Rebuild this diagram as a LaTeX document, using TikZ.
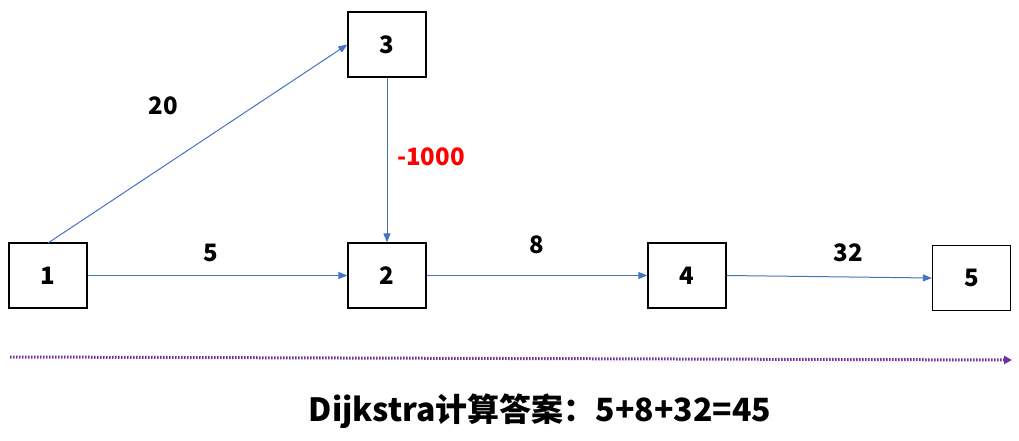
\documentclass[tikz,border=0pt]{standalone}
\usepackage{fontspec}
\setmainfont{Noto Sans CJK SC}
\newfontfamily\cjk{Noto Sans CJK SC}
\usetikzlibrary{arrows.meta}
\definecolor{edgeblue}{RGB}{68,114,196}
\definecolor{dotpurple}{RGB}{112,48,160}
\begin{document}
\begin{tikzpicture}[x=1pt,y=-1pt,
  vbox/.style={draw=black,line width=1.3pt,minimum width=78pt,minimum height=65pt,inner sep=0pt,font=\fontsize{24}{26}\selectfont\bfseries},
  edge/.style={draw=edgeblue,line width=1pt,-{Triangle[length=9pt,width=7pt]}},
  wlabel/.style={font=\fontsize{24}{26}\selectfont\bfseries}]
\useasboundingbox (0,0) rectangle (1019,440);
\node[vbox] (n1) at (48,275.5) {1};
\node[vbox] (n2) at (387,275.5) {2};
\node[vbox] (n3) at (387,44.5) {3};
\node[vbox] (n4) at (687,275.5) {4};
\node[vbox] (n5) at (971.5,278) {5};
\coordinate (s13) at (48,243);
\draw[edge] (s13) -- (n3.west);
\draw[edge] (n1.east) -- (n2.west);
\draw[edge] (n3.south) -- (n2.north);
\draw[edge] (n2.east) -- (n4.west);
\draw[edge] (n4.east) -- (n5.west);
\node[wlabel] (l20) at (163,106) {20};
\node[wlabel] (l5) at (211,253) {5};
\node[wlabel,text=red] (l1000) at (431,157) {-1000};
\node[wlabel] (l8) at (537,245) {8};
\node[wlabel] (l32) at (848,253) {32};
\coordinate (da) at (10,357);
\coordinate (db) at (1012,360);
\draw[dotpurple,line width=3pt,dash pattern=on 1.5pt off 1.5pt,-{Triangle[length=8pt,width=8pt]}] (da) -- (db);
\node[font=\fontsize{32}{36}\selectfont\bfseries] (ans) at (540,411) {Dijkstra计算答案：5+8+32=45};
\end{tikzpicture}
\end{document}
